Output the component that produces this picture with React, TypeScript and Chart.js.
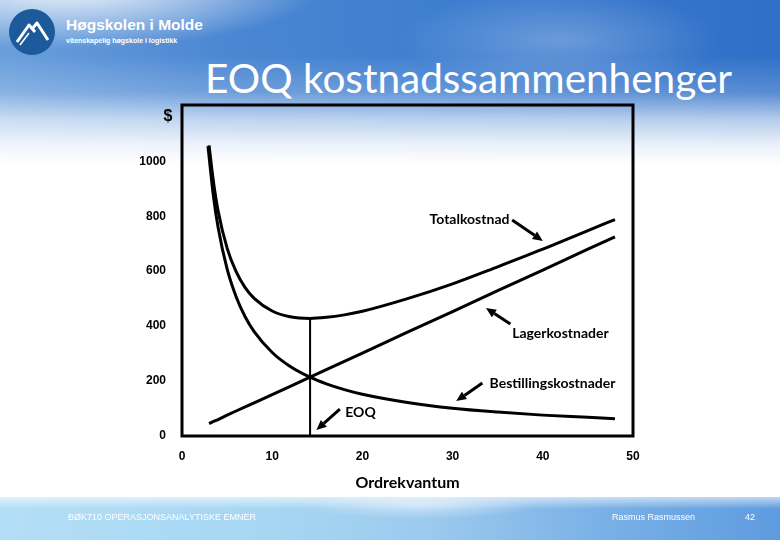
import React, { useEffect, useRef } from "react";
import { Chart, registerables } from "chart.js";

Chart.register(...registerables);

// ---- Data ----
const orderQty = [3, 3.5, 4, 5, 6, 7, 8, 10, 12, 14.2, 16, 18, 20, 25, 30, 35, 40, 45, 48];
const totalCost = [1058, 922, 820, 684, 598, 540, 501, 455, 434, 428, 432, 441, 454, 500, 554, 616, 680, 748, 788];
const holdingCost = [45, 53, 60, 76, 91, 106, 121, 151, 181, 214, 242, 272, 302, 378, 453, 529, 604, 680, 725];
const orderingQty = [2.88, 3.5, 4, 5, 6, 7, 8, 10, 12, 14.2, 16, 18, 20, 25, 30, 35, 40, 45, 48];
const orderingCost = [1055, 869, 760, 608, 507, 434, 380, 304, 253, 214, 190, 169, 152, 122, 101, 87, 76, 68, 63];
const eoqQty = 14.2;
const eoqTotal = 428;
const yTickValues = [0, 200, 400, 600, 800, 1000];
const xTickValues = [0, 10, 20, 30, 40, 50];
const xMax = 50;
const yMax = 1205;

// callout texts with their anchor / arrow ends in data units
const calloutTexts = ["Totalkostnad", "Lagerkostnader", "Bestillingskostnader", "EOQ"];
const calloutTextAt = [[36.3, 790], [36.6, 375], [34.1, 193], [18.1, 87]];
const calloutArrowFrom = [[36.6, 786], [36.4, 408], [33.3, 193], [17.5, 98]];
const calloutArrowTo = [[40.0, 710], [33.7, 466], [30.4, 127], [14.9, 22]];
const calloutAlign = ["right", "left", "left", "left"];

const toXY = (qs: number[], ys: number[]) => qs.map((q, i) => ({ x: q, y: ys[i] }));

function drawArrow(ctx: CanvasRenderingContext2D, x1: number, y1: number, x2: number, y2: number) {
  const ang = Math.atan2(y2 - y1, x2 - x1);
  const head = 10;
  const hw = 4.5;
  const bx = x2 - head * Math.cos(ang);
  const by = y2 - head * Math.sin(ang);
  ctx.beginPath();
  ctx.moveTo(x1, y1);
  ctx.lineTo(bx, by);
  ctx.lineWidth = 3;
  ctx.stroke();
  ctx.beginPath();
  ctx.moveTo(x2, y2);
  ctx.lineTo(bx + hw * Math.sin(ang), by - hw * Math.cos(ang));
  ctx.lineTo(bx - hw * Math.sin(ang), by + hw * Math.cos(ang));
  ctx.closePath();
  ctx.fill();
}

const overlayPlugin = {
  id: "overlay",
  afterDatasetsDraw(chart: any) {
    const { ctx, chartArea: a, scales } = chart;
    const xs = scales.x;
    const ys = scales.y;
    ctx.save();
    ctx.strokeStyle = "#000";
    ctx.fillStyle = "#000";
    ctx.lineWidth = 3;
    ctx.strokeRect(a.left, a.top, a.right - a.left, a.bottom - a.top);
    ctx.font = "bold 16px 'Liberation Sans'";
    ctx.textAlign = "center";
    ctx.textBaseline = "middle";
    ctx.fillText("$", a.left - 14, a.top + 12);
    ctx.font = "bold 14px Lato";
    calloutTexts.forEach((t, i) => {
      ctx.textAlign = calloutAlign[i] as CanvasTextAlign;
      ctx.fillText(t, xs.getPixelForValue(calloutTextAt[i][0]), ys.getPixelForValue(calloutTextAt[i][1]));
      drawArrow(
        ctx,
        xs.getPixelForValue(calloutArrowFrom[i][0]),
        ys.getPixelForValue(calloutArrowFrom[i][1]),
        xs.getPixelForValue(calloutArrowTo[i][0]),
        ys.getPixelForValue(calloutArrowTo[i][1])
      );
    });
    ctx.restore();
  },
};

const footerFont = "9px 'Liberation Sans Narrow', 'Liberation Sans'";

export default function App() {
  const ref = useRef<HTMLCanvasElement>(null);
  useEffect(() => {
    document.body.style.margin = "0";
    const lineStyle = {
      borderColor: "#000",
      backgroundColor: "#000",
      borderWidth: 3,
      pointRadius: 0,
      fill: false,
    };
    const tickFont = { family: "'Liberation Sans'", size: 12, weight: "bold" };
    const chart = new Chart(ref.current!, {
      type: "line",
      data: {
        datasets: [
          { label: "Totalkostnad", data: toXY(orderQty, totalCost), cubicInterpolationMode: "monotone", ...lineStyle },
          { label: "Lagerkostnader", data: toXY(orderQty, holdingCost), tension: 0, ...lineStyle },
          {
            label: "Bestillingskostnader",
            data: toXY(orderingQty, orderingCost),
            cubicInterpolationMode: "monotone",
            ...lineStyle,
          },
          {
            label: "EOQ",
            data: [
              { x: eoqQty, y: 0 },
              { x: eoqQty, y: eoqTotal },
            ],
            tension: 0,
            ...lineStyle,
            borderWidth: 2,
          },
        ],
      },
      options: {
        responsive: false,
        animation: false,
        layout: { padding: { left: 0, top: 105, right: 147, bottom: 0 } },
        plugins: { legend: { display: false }, tooltip: { enabled: false } },
        scales: {
          x: {
            type: "linear",
            min: 0,
            max: xMax,
            afterBuildTicks: (s: any) => {
              s.ticks = xTickValues.map((v) => ({ value: v }));
            },
            afterFit: (s: any) => {
              s.height = 104;
            },
            grid: { display: false, drawTicks: false },
            border: { display: false },
            ticks: {
              padding: 13,
              color: "#000",
              font: tickFont,
              maxRotation: 0,
              callback: (v: any) => String(v),
            },
            title: {
              display: true,
              text: "Ordrekvantum",
              color: "#000",
              font: { family: "Lato", size: 16, weight: "bold" },
              padding: { top: 0, bottom: 48 },
            },
          },
          y: {
            type: "linear",
            min: 0,
            max: yMax,
            afterBuildTicks: (s: any) => {
              s.ticks = yTickValues.map((v) => ({ value: v }));
            },
            afterFit: (s: any) => {
              s.width = 182;
            },
            grid: { display: false, drawTicks: false },
            border: { display: false },
            ticks: {
              padding: 16,
              color: "#000",
              font: tickFont,
              callback: (v: any) => String(v),
            },
          },
        },
      },
      plugins: [overlayPlugin],
    } as any);
    return () => chart.destroy();
  }, []);

  const footerStyle: React.CSSProperties = {
    position: "absolute",
    top: 512,
    color: "#fff",
    font: footerFont,
    lineHeight: "11px",
    whiteSpace: "nowrap",
  };

  return (
    <div
      style={{
        position: "relative",
        width: 780,
        height: 540,
        overflow: "hidden",
        background: "#ffffff",
        fontFamily: "Lato",
      }}
    >
      {/* sky */}
      <div
        style={{
          position: "absolute",
          left: 0,
          top: 0,
          width: 780,
          height: 165,
          background:
            "radial-gradient(ellipse 250px 60px at 70px -12px, rgba(255,255,255,0.9), rgba(255,255,255,0) 100%), radial-gradient(ellipse 160px 50px at 560px 40px, rgba(255,255,255,0.25), rgba(255,255,255,0) 100%), linear-gradient(to right, #6a9fdc 0%, #4a86d2 30%, #3d7dcf 60%, #2f6fc8 100%)",
          WebkitMaskImage:
            "linear-gradient(to bottom, #000 0px, #000 55px, rgba(0,0,0,0.8) 92px, rgba(0,0,0,0.35) 120px, rgba(0,0,0,0.1) 145px, rgba(0,0,0,0) 165px)",
          maskImage:
            "linear-gradient(to bottom, #000 0px, #000 55px, rgba(0,0,0,0.8) 92px, rgba(0,0,0,0.35) 120px, rgba(0,0,0,0.1) 145px, rgba(0,0,0,0) 165px)",
        }}
      />
      {/* logo */}
      <svg width="60" height="60" style={{ position: "absolute", left: 4, top: 4 }}>
        <circle cx="28" cy="28" r="23" fill="#1c5a9c" />
        <polyline points="13,38 25,21 31,28" fill="none" stroke="#fff" strokeWidth="3" strokeLinejoin="round" />
        <polyline points="28,25 33,19 44,36" fill="none" stroke="#fff" strokeWidth="3" strokeLinejoin="round" />
        <polyline points="16,41 25,29" fill="none" stroke="#fff" strokeWidth="1.5" />
      </svg>
      <div
        style={{
          position: "absolute",
          left: 66,
          top: 16,
          color: "#fff",
          font: "bold 15.5px 'Liberation Sans'",
          lineHeight: "18px",
          whiteSpace: "nowrap",
        }}
      >
        Høgskolen i Molde
      </div>
      <div
        style={{
          position: "absolute",
          left: 66,
          top: 36,
          color: "#fff",
          font: "bold 7px 'Liberation Sans'",
          lineHeight: "9px",
          whiteSpace: "nowrap",
        }}
      >
        vitenskapelig høgskole i logistikk
      </div>
      {/* bottom band */}
      <div
        style={{
          position: "absolute",
          left: 0,
          top: 497,
          width: 780,
          height: 43,
          background:
            "linear-gradient(to bottom, rgba(255,255,255,0.6), rgba(255,255,255,0) 12px), radial-gradient(ellipse 120px 14px at 420px 8px, rgba(255,255,255,0.5), rgba(255,255,255,0) 100%), linear-gradient(to right, #b3def6 0%, #a7d6f3 35%, #9ccaee 55%, #78b0e6 78%, #5e9be0 100%)",
        }}
      />
      {/* title */}
      <div
        style={{
          position: "absolute",
          left: 205,
          top: 57,
          color: "#fff",
          font: "40.5px Lato",
          lineHeight: "42px",
          whiteSpace: "nowrap",
        }}
      >
        EOQ kostnadssammenhenger
      </div>
      <canvas
        ref={ref}
        width={780}
        height={540}
        style={{ position: "absolute", left: 0, top: 0, width: 780, height: 540 }}
      />
      {/* footer */}
      <div style={{ ...footerStyle, left: 68 }}>BØK710 OPERASJONSANALYTISKE EMNER</div>
      <div style={{ ...footerStyle, left: 612 }}>Rasmus Rasmussen</div>
      <div style={{ ...footerStyle, left: 745 }}>42</div>
    </div>
  );
}
